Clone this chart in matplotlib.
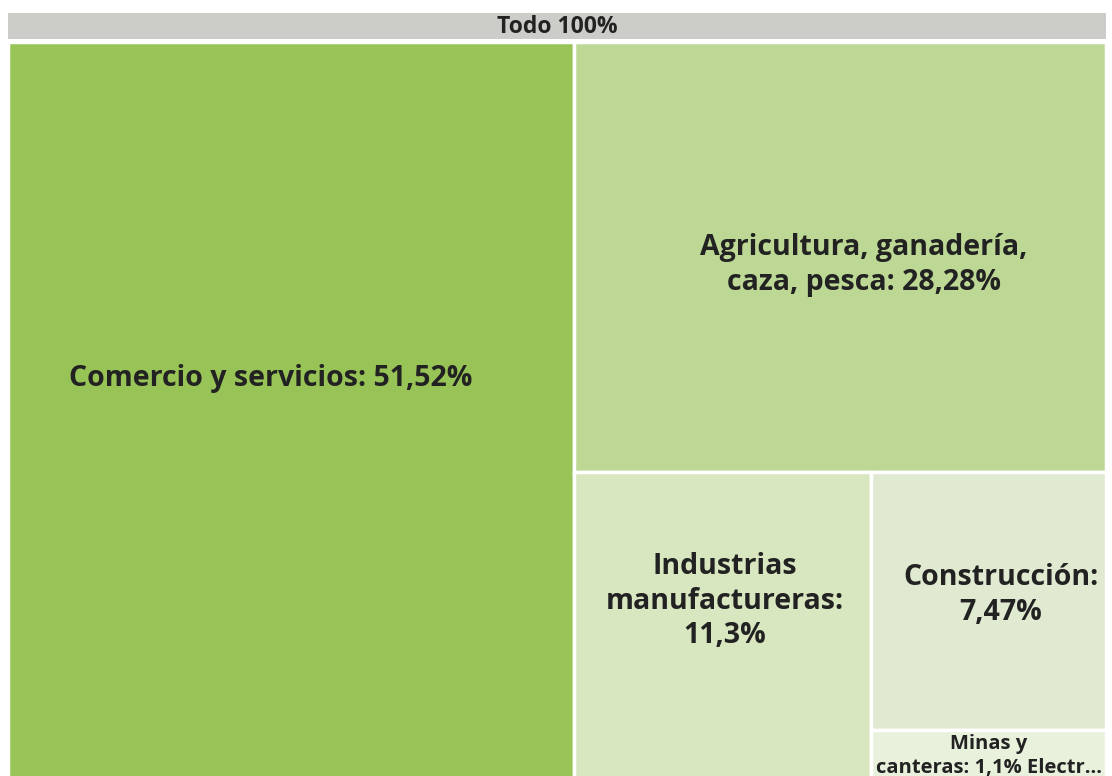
import matplotlib.pyplot as plt
from matplotlib.patches import Rectangle

plt.rcParams['font.family'] = ['Open Sans', 'DejaVu Sans']

sectores = ["Comercio y servicios", "Agricultura, ganadería, caza, pesca",
            "Industrias manufactureras", "Construcción", "Minas y canteras",
            "Electricidad, gas y agua"]
valores = [51.52, 28.28, 11.3, 7.47, 1.1, 0.33]
colores = ["#98c457", "#bdd895", "#d9e7c0", "#dfead0", "#e8f1dc"]
etiquetas = ["Comercio y servicios: {}",
             "Agricultura, ganadería,\ncaza, pesca: {}",
             "Industrias\nmanufactureras:\n{}",
             "Construcción:\n{}",
             "Minas y\ncanteras: {} Electr..."]
tamanos = [20.5, 20.5, 20.5, 20.5, 14.5]


def fmt(v):
    return ("%g" % v).replace(".", ",") + "%"


# layout: slice-and-dice, alternating directions (W=100, H=100)
# the two smallest sectors share the last cell (one label runs into the next)
celdas = valores[:4] + [valores[4] + valores[5]]
total = sum(celdas)
rects = []
x0, y0, w, h = 0.0, 0.0, 100.0, 100.0
resto = total
vertical = True
for i, v in enumerate(celdas):
    if i == len(celdas) - 1:
        rects.append((x0, y0, w, h))
        break
    if vertical:
        ww = w * v / resto
        rects.append((x0, y0, ww, h))
        x0 += ww
        w -= ww
    else:
        hh = h * v / resto
        rects.append((x0, y0 + h - hh, w, hh))
        h -= hh
    resto -= v
    vertical = not vertical

fig = plt.figure(figsize=(11.12, 7.76), dpi=100)

# header bar
axh = fig.add_axes([8 / 1112, 1 - 39 / 776, 1098 / 1112, 26 / 776])
axh.set_xlim(0, 1)
axh.set_ylim(0, 1)
axh.axis("off")
axh.add_patch(Rectangle((0, 0), 1, 1, facecolor="#cccdc9", edgecolor="none"))
axh.text(0.5, 0.47, "Todo 100%", ha="center", va="center", fontsize=16.5,
         fontweight="bold", color="#222222")

ax = fig.add_axes([8 / 1112, -3 / 776, 1098 / 1112, 737 / 776])
ax.set_xlim(0, 100)
ax.set_ylim(0, 100)
ax.axis("off")

offsets = [(-1.8, 4.3), (2.2, -1.1), (0.2, 3.3), (1.1, 0.8), (0, 0)]
for i, (x, y, ww, hh) in enumerate(rects):
    ax.add_patch(Rectangle((x, y), ww, hh, facecolor=colores[i],
                           edgecolor="white", linewidth=2.5))
    dx, dy = offsets[i]
    ty = y + hh / 2 + dy
    va = "center"
    if i == 4:
        ty = y + hh - 0.6
        va = "top"
    ax.text(x + ww / 2 + dx, ty, etiquetas[i].format(fmt(valores[i])),
            ha="center", va=va, fontsize=tamanos[i], fontweight="bold",
            color="#222222", linespacing=1.25)

fig.savefig("out.png", dpi=100)
